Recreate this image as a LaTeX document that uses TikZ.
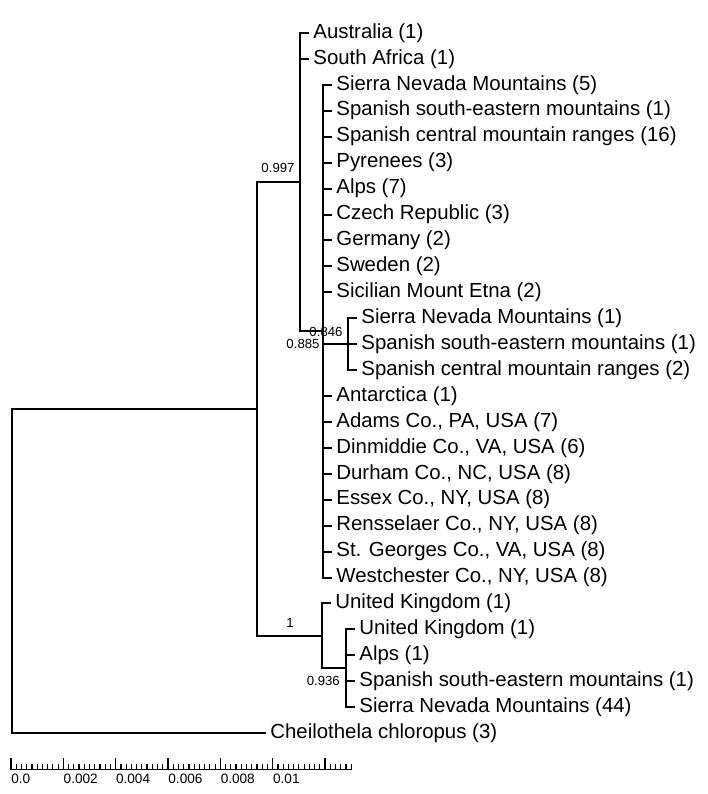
\documentclass[tikz,border=0pt]{standalone}
\usepackage{fontspec}
\setmainfont{Liberation Sans}
\begin{document}
\begin{tikzpicture}[x=0.5pt,y=-12.965pt]
\tikzset{leaf/.style={anchor=west,inner xsep=2.5pt,inner ysep=0pt,
    text height=0.73em,text depth=0.21em,font=\fontsize{10.2}{12}\selectfont},
    br/.style={line width=1pt,line cap=rect}}

\tikzset{supp/.style={inner sep=0pt,font=\fontsize{6.6}{8}\selectfont},
    scl/.style={line width=0.6pt},
    tick/.style={anchor=north west,inner xsep=0pt,inner ysep=2pt,font=\fontsize{6.8}{8}\selectfont}}

\useasboundingbox (0,-1.2727) rectangle (707,29.348);

\coordinate (n0) at (12,20.75);
\coordinate (n1) at (257,14.5);
\coordinate (n2) at (300,5.75);
\coordinate (n3) at (323,11.5);
\coordinate (n4) at (348,12);
\coordinate (n5) at (322,23.25);
\coordinate (n6) at (346,24.5);

\foreach \i/\p/\t in {0/n2/Australia (1), 1/n2/South Africa (1),
    2/n3/Sierra Nevada Mountains (5), 3/n3/Spanish south-eastern mountains (1),
    4/n3/Spanish central mountain ranges (16), 5/n3/Pyrenees (3), 6/n3/Alps (7),
    7/n3/Czech Republic (3), 8/n3/Germany (2), 9/n3/Sweden (2),
    10/n3/Sicilian Mount Etna (2), 11/n4/Sierra Nevada Mountains (1),
    12/n4/Spanish south-eastern mountains (1), 13/n4/Spanish central mountain ranges (2),
    14/n3/Antarctica (1), 15/n3/{Adams Co., PA, USA (7)},
    16/n3/{Dinmiddie Co., VA, USA (6)}, 17/n3/{Durham Co., NC, USA (8)},
    18/n3/{Essex Co., NY, USA (8)}, 19/n3/{Rensselaer Co., NY, USA (8)},
    20/n3/{St. Georges Co., VA, USA (8)}, 21/n3/{Westchester Co., NY, USA (8)},
    22/n5/United Kingdom (1), 23/n6/United Kingdom (1), 24/n6/Alps (1),
    25/n6/Spanish south-eastern mountains (1), 26/n6/Sierra Nevada Mountains (44)} {
    \node[leaf,xshift=4pt] (l\i) at (\p |- 0,\i) {\t};
    \draw[br] (\p |- l\i.west) -- (l\i.west);
}
\node[leaf] (l27) at (265,27) {Cheilothela chloropus (3)};
\draw[br] (n0 |- l27) -- (l27.west);

\draw[br] (n1) -- (n0 |- n1) -- (n0 |- l27);
\draw[br] (n2) -- (n1 |- n2) -- (n1 |- n5) -- (n5);
\draw[br] (n2 |- l0) -- (n2 |- n3) -- (n3);
\draw[br] (n3 |- l2) -- (n3 |- l21);
\draw[br] (n3 |- n4) -- (n4);
\draw[br] (n4 |- l11) -- (n4 |- l13);
\draw[br] (n5 |- l22) -- (n5 |- n6) -- (n6);
\draw[br] (n6 |- l23) -- (n6 |- l26);

\node[supp] (s2) at (278,5.21) {0.997};
\node[supp] (s3) at (303,12) {0.885};
\node[supp] (s4) at (326,11.52) {0.846};
\node[supp] (s5) at (290,22.75) {1};
\node[supp] (s6) at (323.3,25) {0.936};

\draw[scl] (11,28.41) coordinate (b0) -- (351.2,28.41) coordinate (b1);
\foreach \k in {0,...,65} {
    \draw[scl] ({11+\k*5.234},28.41) -- ++(0pt,3pt);
}
\foreach \k/\v in {0/0.0,1/0.002,2/0.004,3/0.006,4/0.008,5/0.01} {
    \draw[scl] ({11+\k*52.34},28.41) -- ++(0pt,6pt);
    \node[tick] (t\k) at ({11+\k*52.34},28.41) {\v};
}
\draw[scl] ({11+6*52.34},28.41) -- ++(0pt,6pt);

\end{tikzpicture}
\end{document}
